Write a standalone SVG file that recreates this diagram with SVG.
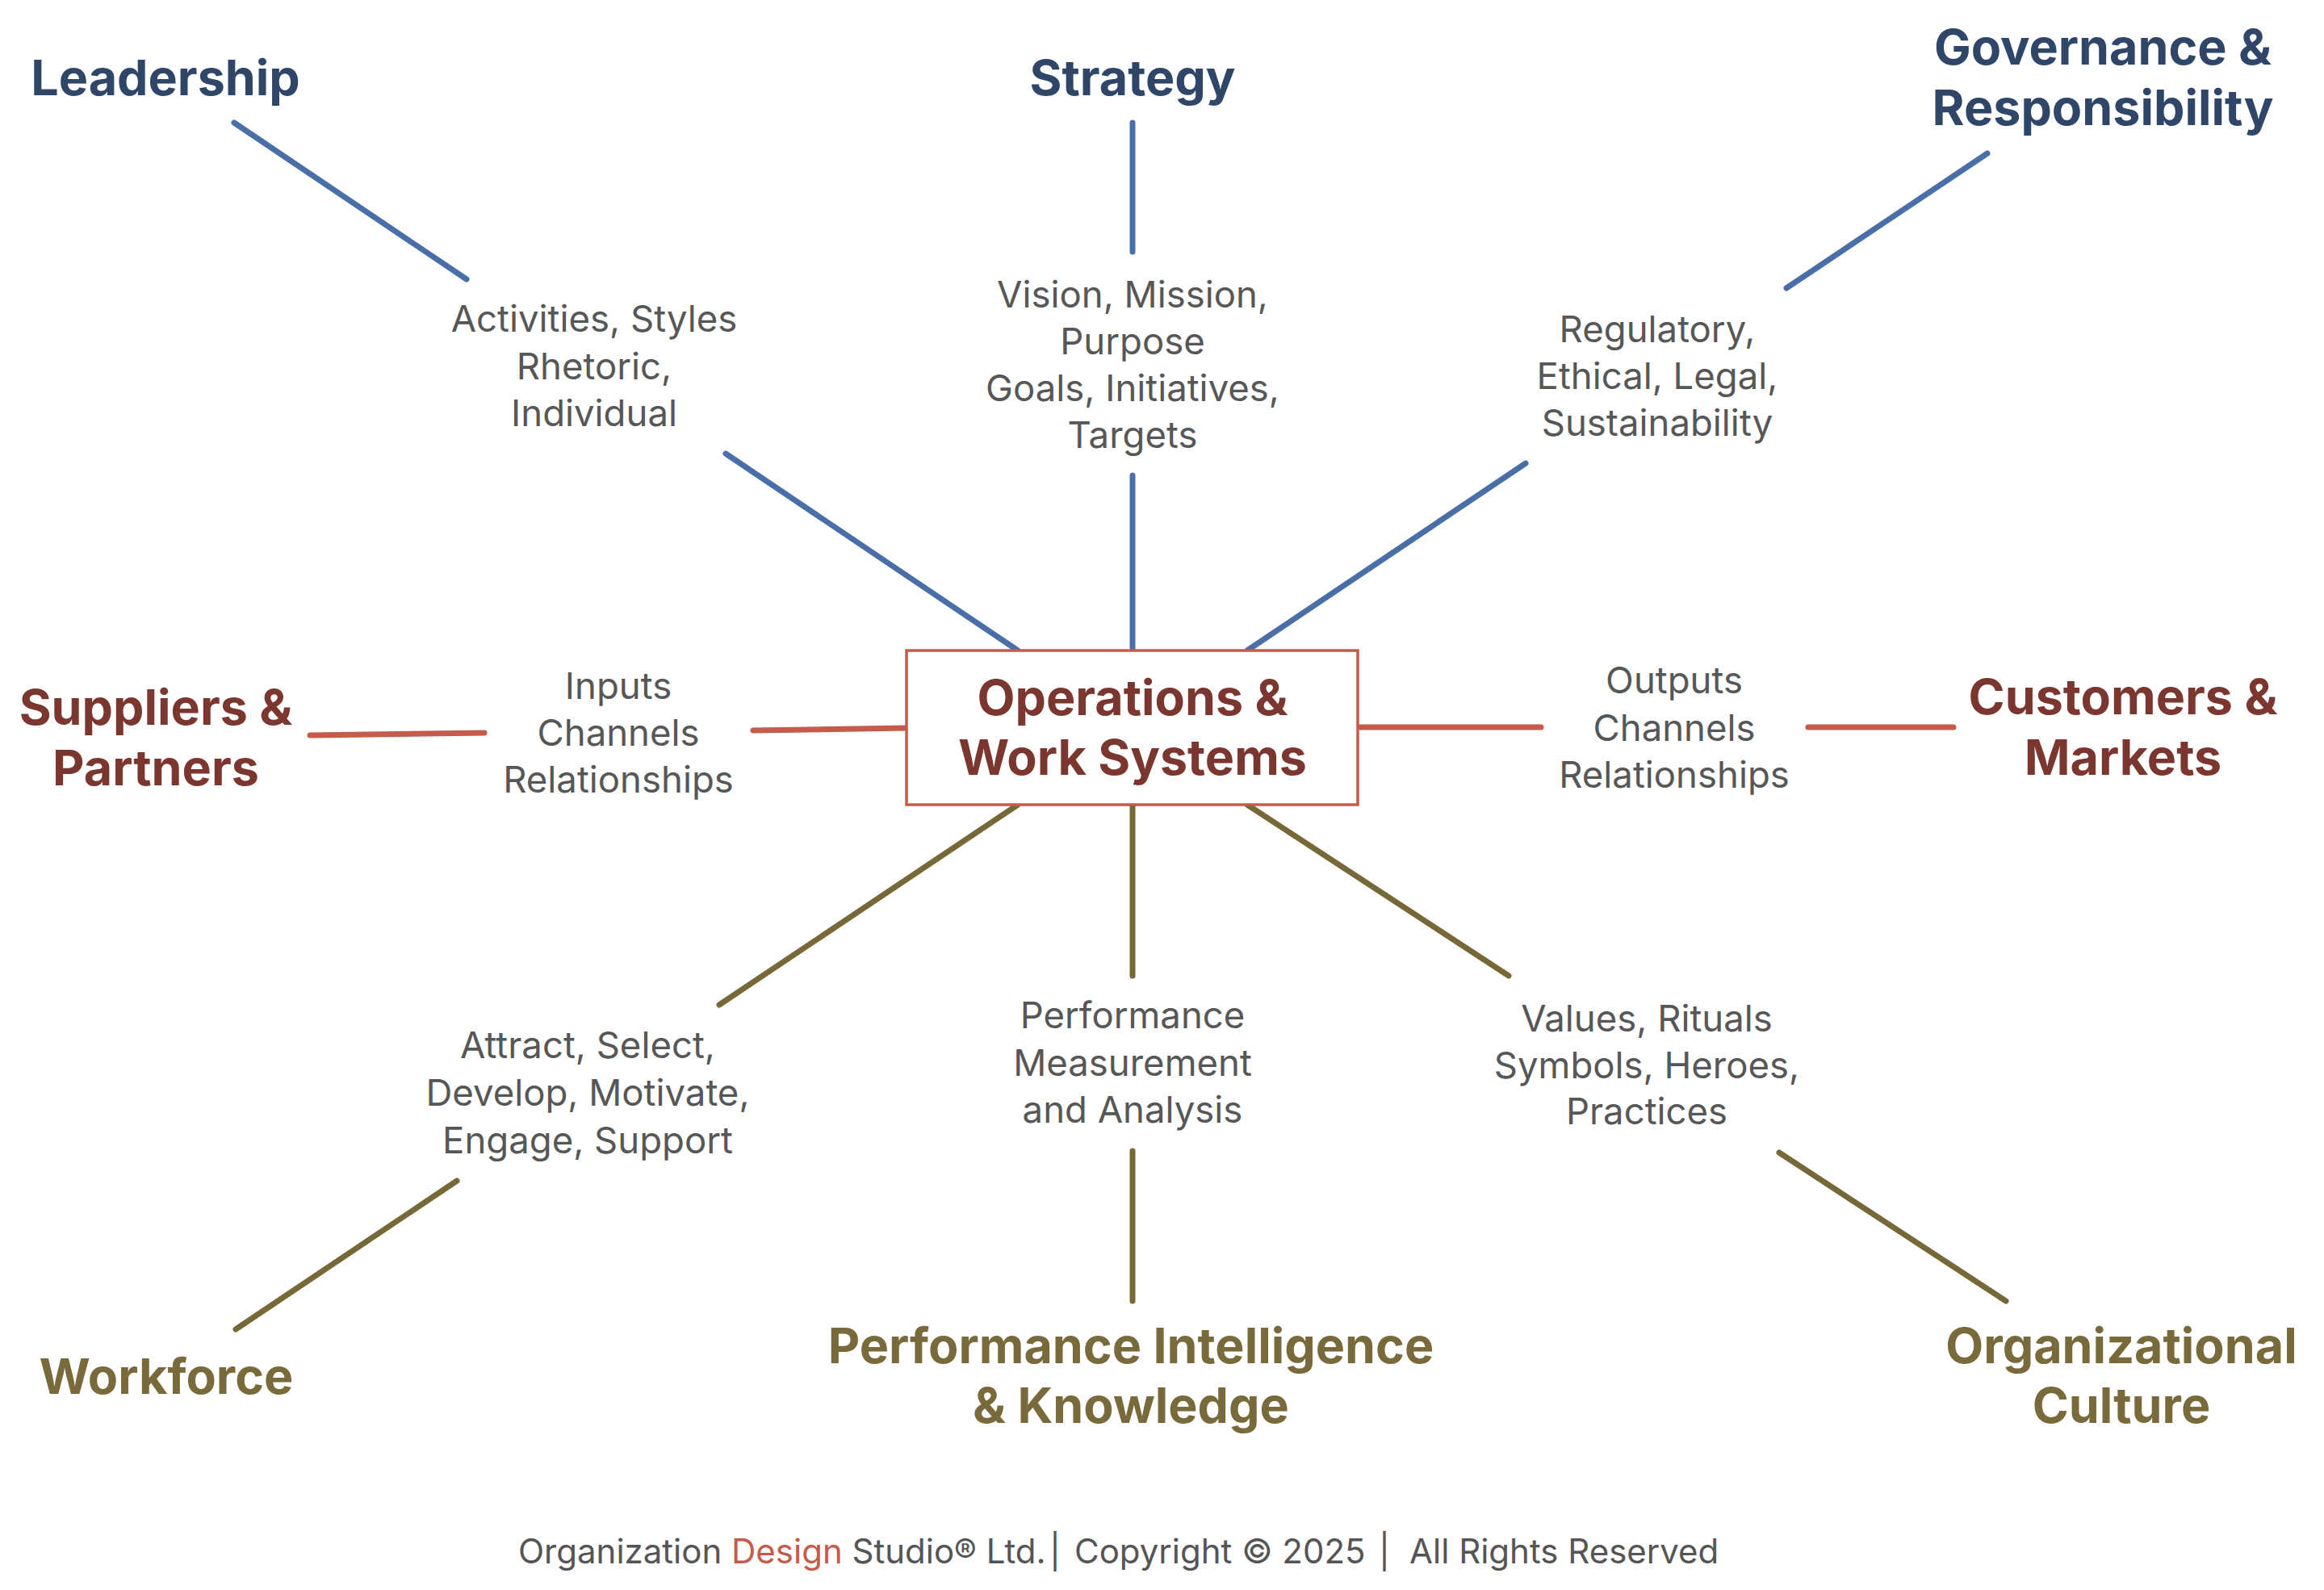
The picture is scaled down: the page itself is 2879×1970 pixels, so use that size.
<svg xmlns="http://www.w3.org/2000/svg" width="2879" height="1970" viewBox="0 0 2879 1970">
<style>
.bg{fill:#ffffff}
.h{font-family:Inter,"Liberation Sans",sans-serif;font-weight:700;font-size:61px;text-anchor:middle}
.hb{fill:#2f4669}
.hr{fill:#7b362f}
.ho{fill:#786a3a}
.lbl{font-family:Inter,"Liberation Sans",sans-serif;font-size:45.5px;fill:#575757;text-anchor:middle}
.cb{stroke:#4a6ea8}
.cr{stroke:#c45b4b}
.co{stroke:#776838}
.conn path{fill:none;stroke-width:7;stroke-linecap:round}
.box{fill:#ffffff;stroke:#c45b4b;stroke-width:3.5}
.foot{font-family:Inter,"Liberation Sans",sans-serif;font-size:42px;fill:#555555}
</style>
<rect class="bg" x="0" y="0" width="2879" height="1970"/>
<g id="connectors" class="conn">
<path class="cb" d="M290,152 L578,346 M899,562 L1261,806"/>
<path class="cb" d="M1403,152 L1403,312 M1403,589 L1403,806"/>
<path class="cb" d="M2462,190 L2213,357 M1890,574 L1545,806"/>
<path class="cr" d="M384,911 L600,908 M933,905 L1122,902"/>
<path class="cr" d="M1682,901 L1909,901 M2240,901 L2420,901"/>
<path class="co" d="M1261,997 L891,1245 M566,1463 L292,1647"/>
<path class="co" d="M1403,997 L1403,1209 M1403,1426 L1403,1612"/>
<path class="co" d="M1545,997 L1869,1209 M2204,1428 L2485,1612"/>
</g>
<g id="center">
<rect class="box" x="1123" y="806" width="559" height="191"/>
<text class="h hr" x="1403" y="886">Operations &amp;</text>
<text class="h hr" x="1403" y="960">Work Systems</text>
</g>
<g id="leadership">
<text class="h hb" x="205" y="118">Leadership</text>
<text class="lbl" x="736" y="411">Activities, Styles</text>
<text class="lbl" x="736" y="470">Rhetoric,</text>
<text class="lbl" x="736" y="528">Individual</text>
</g>
<g id="strategy">
<text class="h hb" x="1403" y="118">Strategy</text>
<text class="lbl" x="1403" y="381">Vision, Mission,</text>
<text class="lbl" x="1403" y="439">Purpose</text>
<text class="lbl" x="1403" y="497">Goals, Initiatives,</text>
<text class="lbl" x="1403" y="555">Targets</text>
</g>
<g id="governance">
<text class="h hb" x="2605" y="80">Governance &amp;</text>
<text class="h hb" x="2605" y="155">Responsibility</text>
<text class="lbl" x="2053" y="424">Regulatory,</text>
<text class="lbl" x="2053" y="482">Ethical, Legal,</text>
<text class="lbl" x="2053" y="540">Sustainability</text>
</g>
<g id="suppliers">
<text class="h hr" x="193" y="898">Suppliers &amp;</text>
<text class="h hr" x="193" y="973">Partners</text>
<text class="lbl" x="766" y="866">Inputs</text>
<text class="lbl" x="766" y="924">Channels</text>
<text class="lbl" x="766" y="982">Relationships</text>
</g>
<g id="customers">
<text class="h hr" x="2630" y="885">Customers &amp;</text>
<text class="h hr" x="2630" y="960">Markets</text>
<text class="lbl" x="2074" y="859">Outputs</text>
<text class="lbl" x="2074" y="918">Channels</text>
<text class="lbl" x="2074" y="976">Relationships</text>
</g>
<g id="workforce">
<text class="h ho" x="206" y="1727">Workforce</text>
<text class="lbl" x="728" y="1311">Attract, Select,</text>
<text class="lbl" x="728" y="1370">Develop, Motivate,</text>
<text class="lbl" x="728" y="1429">Engage, Support</text>
</g>
<g id="performance">
<text class="h ho" x="1401" y="1689">Performance Intelligence</text>
<text class="h ho" x="1401" y="1763">&amp; Knowledge</text>
<text class="lbl" x="1403" y="1274">Performance</text>
<text class="lbl" x="1403" y="1333">Measurement</text>
<text class="lbl" x="1403" y="1391">and Analysis</text>
</g>
<g id="culture">
<text class="h ho" x="2628" y="1689">Organizational</text>
<text class="h ho" x="2628" y="1763">Culture</text>
<text class="lbl" x="2040" y="1278">Values, Rituals</text>
<text class="lbl" x="2040" y="1336">Symbols, Heroes,</text>
<text class="lbl" x="2040" y="1393">Practices</text>
</g>
<g id="footer">
<text class="foot" y="1937"><tspan x="642">Organization </tspan><tspan fill="#c45b4b">Design</tspan><tspan> Studio® Ltd.</tspan><tspan x="1300">|</tspan><tspan x="1331">Copyright © 2025</tspan><tspan x="1708">|</tspan><tspan x="1746">All Rights Reserved</tspan></text>
</g>
</svg>
